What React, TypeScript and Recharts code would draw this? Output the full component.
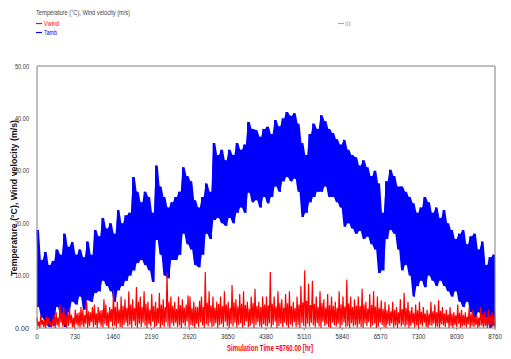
import React from 'react';
import { ComposedChart, Line, Area, XAxis, YAxis, ReferenceLine } from 'recharts';

// Ambient temperature: per-bin envelope readings (120 bins across the simulated year)
const tambHigh = [
  18.7, 13, 14.5, 12, 12.8, 15, 14, 18, 15.5, 16.4, 14, 15,
  13.5, 16.5, 14, 18.7, 17.5, 21, 19, 20, 18, 22.5, 20, 21.5,
  22, 28.8, 26, 24, 26, 25, 22, 31, 27, 25, 23, 24,
  25, 26, 30.7, 29, 28, 24.4, 23, 25, 27.6, 26, 35.3, 33,
  34, 32, 34, 33, 35.3, 34, 35, 39.3, 38, 37.8, 36.5, 38,
  38.4, 37, 39.7, 38.5, 40, 41.2, 40.5, 41, 39, 35.3, 33, 37,
  39, 38, 40.6, 39.5, 38, 37.2, 36, 35, 35.9, 34, 33, 32.6,
  31, 32, 30.7, 29, 30, 27.6, 22, 28, 30.2, 29, 27, 27,
  26, 25, 23.8, 22, 23, 25, 24, 22, 23, 21, 22.5, 20,
  18.7, 17, 18, 18.7, 16, 17.5, 18, 15, 16.5, 12, 13.5, 14,
];
const tambLow = [
  4, 2, 1, 0.2, 0.5, 4, 2.5, 0.2, 3, 5, 4.5, 6,
  3.5, 5.3, 5, 6.7, 7, 9, 8, 7, 5, 7.2, 8, 9,
  10, 11, 12.4, 13, 12, 11, 8.8, 16.8, 14, 10, 9.5, 13,
  13, 14, 18, 16, 15, 12, 11.6, 14, 18, 17, 20.6, 21,
  20, 19.5, 21, 20, 22, 23, 22, 25.8, 24, 24.4, 23, 25,
  23.8, 25, 27, 26, 28, 28.8, 28, 28.5, 26, 21.2, 22, 24,
  25, 26, 26, 27, 25, 25, 24, 23, 19.3, 20, 19, 18,
  18.5, 17, 17.4, 16, 15, 10.5, 11, 17, 18.7, 18, 15, 11,
  12, 10, 6, 8, 9, 7.8, 10, 9, 8, 9, 8, 7,
  6, 7, 5, 4, 5, 3, 2, 3, 1, 2, 0, 0.5,
];
// Wind velocity: per-bin peaks and troughs (240 bins across the simulated year)
const vwindHigh = [
  2, 1.2, 2.5, 1.5, 1.5, 2.2, 2, 1, 1.8, 2.6, 3, 2, 4.5, 3, 4, 2.5, 3, 3.8, 2.5, 2, 3.5, 2.8, 3, 4,
  3.5, 2.5, 5, 3.2, 3, 4, 4.5, 2.8, 4, 3.3, 3.5, 5.5, 4.5, 3, 4, 3.6, 7.2, 4, 5, 3.5, 6, 4.2, 5.5, 3.8,
  7, 4.5, 5.5, 3.8, 7.8, 5, 6, 4, 7, 4.6, 5, 3.5, 6.5, 4.2, 5, 3.8, 6.7, 4.5, 5.5, 4, 10.5, 5, 6, 4.3,
  5, 3.6, 6, 4.4, 5.5, 3.9, 4.5, 6.2, 6, 3.8, 5, 4.1, 4, 5.2, 6, 4, 10.7, 4.8, 7, 4.3, 6, 3.9, 5, 4.6,
  6, 4.2, 7, 4.5, 5, 3.8, 8.2, 4.9, 5.5, 4.1, 6.5, 4.6, 7, 4.4, 5, 3.7, 6, 4.8, 7.5, 4.2, 5, 4, 6, 4.5,
  6, 4.3, 10.7, 4.6, 6, 4.1, 7, 4.8, 5.5, 3.9, 6.5, 4.7, 7, 4.2, 5, 3.8, 6, 4.5, 8, 4.9, 11, 5.2, 8.5, 4.4,
  9, 4.6, 6, 4, 7, 4.8, 5.5, 3.9, 6.5, 4.4, 6, 4.2, 5, 3.8, 7, 4.5, 6, 4.1, 9.2, 4.7, 6, 4, 5.5, 4.3,
  6, 4.2, 7.5, 4.5, 5, 3.7, 6.5, 4.4, 7, 4.1, 6, 3.8, 5.3, 3.6, 5, 3.4, 4.5, 3.2, 5, 3.5, 4, 3, 5.5, 3.6,
  6.7, 3.8, 5, 3.3, 4, 2.9, 4.5, 3.4, 5, 3.1, 4, 2.8, 3.5, 2.7, 5, 3.2, 4.5, 3, 5.3, 3.3, 4, 2.8, 3.5, 2.6,
  4, 2.7, 3, 2.4, 4.5, 2.9, 3.5, 2.5, 3, 2.2, 4, 2.8, 3.5, 2.3, 2.5, 2, 4, 2.6, 3, 2.1, 3.5, 2.4, 3, 2.2,
];
const vwindLow = [
  0.3, 0, 0.6, 0.2, 0, 0.4, 0.8, 0.1, 0.3, 0, 0.5, 0.2, 1, 0.3, 0.6, 0, 0.4, 0.9, 0.2, 0, 0.7, 0.3, 0.1, 0.5,
  0.2, 0.8, 0, 0.4, 1.1, 0.2, 0.6, 0, 0.9, 0.3, 0.1, 0.7, 0.4, 0, 1.2, 0.3, 0.5, 0.1, 0.8, 0.2, 0, 0.6, 1, 0.3,
  0.6, 0.1, 1.3, 0.4, 0, 0.8, 0.2, 1, 0.5, 0, 0.7, 0.3, 1.2, 0.1, 0.4, 0.9, 0, 0.6, 0.2, 1.1, 0.3, 0, 0.8, 0.4,
  1, 0.2, 0.5, 0, 0.9, 0.3, 1.2, 0.1, 0.6, 0.4, 0, 0.8, 0.2, 1.1, 0.5, 0, 0.7, 0.3, 1, 0.2, 0.4, 0.9, 0, 0.6,
  0.8, 0.2, 1.2, 0.4, 0, 0.7, 0.3, 1, 0.1, 0.6, 0.9, 0, 0.5, 1.3, 0.2, 0.4, 0.8, 0, 0.6, 1.1, 0.3, 0.1, 0.7, 0.4,
  0.3, 0.9, 0.1, 0.6, 1.2, 0, 0.4, 0.8, 0.2, 1, 0.5, 0, 0.7, 0.3, 1.1, 0.2, 0.6, 0, 0.9, 0.4, 0.1, 0.8, 0.3, 1,
  0.5, 0.1, 0.9, 0.3, 0, 1.2, 0.4, 0.7, 0.2, 0, 1, 0.5, 0.3, 0.8, 0, 0.6, 1.1, 0.2, 0.4, 0, 0.9, 0.3, 0.6, 0.1,
  0.7, 0.2, 0, 0.9, 0.4, 1.1, 0.1, 0.5, 0.8, 0, 0.3, 1, 0.6, 0.2, 0, 0.7, 0.4, 0.9, 0.1, 0.5, 0, 0.8, 0.3, 0.6,
  0.2, 0.6, 0, 0.4, 0.9, 0.1, 0.5, 0, 0.7, 0.3, 1, 0.2, 0, 0.6, 0.4, 0.8, 0.1, 0.3, 0, 0.7, 0.5, 0.2, 0.9, 0,
  0.4, 0, 0.6, 0.2, 0.8, 0, 0.3, 0.5, 0.1, 0.7, 0, 0.4, 0.2, 0.6, 0, 0.3, 0.5, 0.1, 0.4, 0, 0.6, 0.2, 0.3, 0.1,
];
const xTicks = [0, 730, 1460, 2190, 2920, 3650, 4380, 5110, 5840, 6570, 7300, 8030, 8760];
const yTicks = [0, 10, 20, 30, 40, 50];
const SIM_HOURS = 8760;

const tambData: { t: number; Tamb: number; band: [number, number] }[] = [];
{
  const n = tambHigh.length * 2;
  for (let i = 0; i < tambHigh.length; i++) {
    const band: [number, number] = [tambLow[i], tambHigh[i]];
    tambData.push({ t: (2 * i * SIM_HOURS) / (n - 1), Tamb: tambHigh[i], band });
    tambData.push({ t: ((2 * i + 1) * SIM_HOURS) / (n - 1), Tamb: tambLow[i], band });
  }
}
const windData: { t: number; Vwind: number }[] = [];
{
  const n = vwindHigh.length * 2;
  for (let i = 0; i < vwindHigh.length; i++) {
    windData.push({ t: (2 * i * SIM_HOURS) / (n - 1), Vwind: vwindHigh[i] });
    windData.push({ t: ((2 * i + 1) * SIM_HOURS) / (n - 1), Vwind: vwindLow[i] });
  }
}

const FONT = "'Liberation Sans', Arial, sans-serif";
const AXIS = '#808080';
const TICK_TEXT = '#333333';

const YTick = (props: any) => {
  const { x, y, payload, anchor } = props;
  return (
    <text
      x={x}
      y={y}
      dy={2.5}
      textAnchor={anchor}
      fontSize={7}
      fill={TICK_TEXT}
      fontFamily={FONT}
      textLength={14}
      lengthAdjust="spacingAndGlyphs"
    >
      {Number(payload.value).toFixed(2)}
    </text>
  );
};

const XTick = (props: any) => {
  const { x, y, payload } = props;
  const s = String(payload.value);
  return (
    <text
      x={x}
      y={y}
      dy={6}
      textAnchor="middle"
      fontSize={7}
      fill={TICK_TEXT}
      fontFamily={FONT}
      textLength={s.length * 3.4}
      lengthAdjust="spacingAndGlyphs"
    >
      {s}
    </text>
  );
};

export default function App() {
  return (
    <div style={{ position: 'absolute', left: 0, top: 0, width: 511, height: 359, background: '#fff' }}>
      <ComposedChart
        width={511}
        height={359}
        data={tambData}
        margin={{ top: 66, right: 0, bottom: 0, left: 0 }}
      >
        <XAxis
          dataKey="t"
          type="number"
          domain={[0, SIM_HOURS]}
          ticks={xTicks}
          interval={0}
          height={31}
          stroke={AXIS}
          tickSize={2}
          tickMargin={3}
          tick={<XTick />}
          allowDuplicatedCategory={false}
        />
        <YAxis
          yAxisId="left"
          domain={[0, 50]}
          ticks={yTicks}
          width={37}
          stroke={AXIS}
          tickLine={false}
          tickMargin={2}
          tick={<YTick anchor="end" />}
        />
        <YAxis
          yAxisId="right"
          orientation="right"
          domain={[0, 50]}
          ticks={yTicks}
          width={16}
          stroke={AXIS}
          tickLine={false}
          tickMargin={1}
          tick={<YTick anchor="start" />}
        />
        <ReferenceLine yAxisId="left" y={50} stroke={AXIS} />
        <Area
          yAxisId="left"
          dataKey="band"
          type="linear"
          stroke="none"
          fill="#0000ff"
          fillOpacity={1}
          isAnimationActive={false}
        />
        <Line
          yAxisId="left"
          dataKey="Tamb"
          stroke="#0000ff"
          strokeWidth={1}
          dot={false}
          isAnimationActive={false}
        />
        <Line
          yAxisId="left"
          data={windData}
          dataKey="Vwind"
          stroke="#ff0000"
          strokeWidth={1.2}
          dot={false}
          isAnimationActive={false}
        />
      </ComposedChart>
      <svg
        width={511}
        height={359}
        style={{ position: 'absolute', left: 0, top: 0, pointerEvents: 'none' }}
      >
        <text x={36} y={15} fontSize={7} fill="#444" fontFamily={FONT} textLength={94} lengthAdjust="spacingAndGlyphs">
          Temperature (°C), Wind velocity (m/s)
        </text>
        <line x1={36} x2={42} y1={23.5} y2={23.5} stroke="#ff0000" strokeWidth={1.2} />
        <text x={44} y={26} fontSize={7} fill="#ff0000" fontFamily={FONT} textLength={15} lengthAdjust="spacingAndGlyphs">
          Vwind
        </text>
        <line x1={36} x2={42} y1={32.5} y2={32.5} stroke="#0000ff" strokeWidth={1.2} />
        <text x={44} y={35} fontSize={7} fill="#0000ff" fontFamily={FONT} textLength={13} lengthAdjust="spacingAndGlyphs">
          Tamb
        </text>
        <line x1={338} x2={344} y1={23.5} y2={23.5} stroke="#ff66ff" strokeWidth={1.2} />
        <text x={345} y={26} fontSize={7} fill="#aaaaaa" fontFamily={FONT}>
          id
        </text>
        <text
          x={0}
          y={0}
          transform="translate(17,198) rotate(-90)"
          textAnchor="middle"
          fontSize={8.5}
          fontWeight="bold"
          fill="#111"
          fontFamily={FONT}
          textLength={156}
          lengthAdjust="spacingAndGlyphs"
        >
          Temperature (°C), Wind velocity (m/s)
        </text>
        <text
          x={270}
          y={351}
          textAnchor="middle"
          fontSize={8.5}
          fontWeight="bold"
          fill="#ff0000"
          fontFamily={FONT}
          textLength={86}
          lengthAdjust="spacingAndGlyphs"
        >
          Simulation Time =8760.00 [hr]
        </text>
      </svg>
    </div>
  );
}
